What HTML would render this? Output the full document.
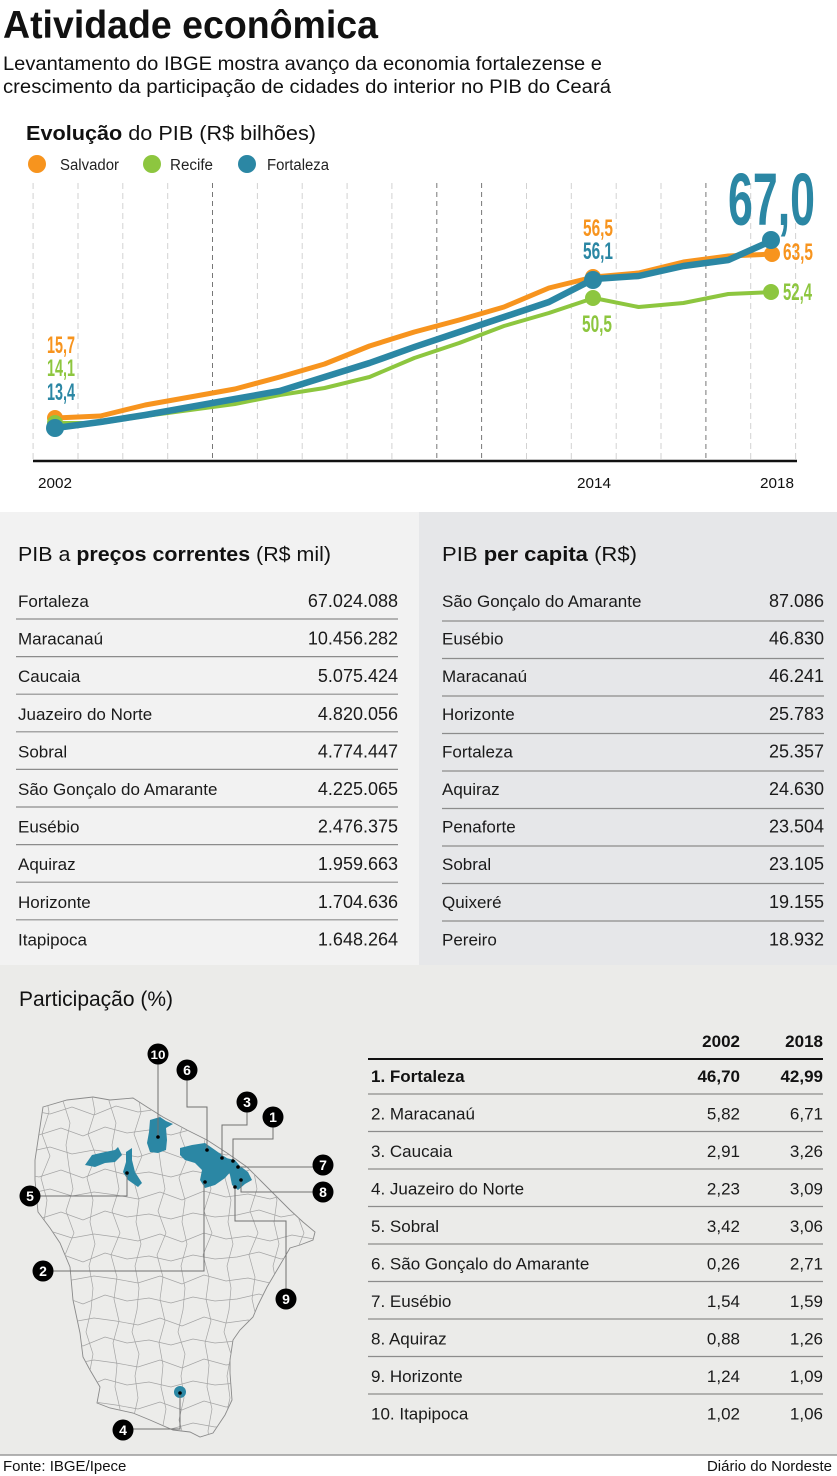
<!DOCTYPE html>
<html><head><meta charset="utf-8"><style>html,body{margin:0;padding:0;background:#fff}svg{display:block}</style></head>
<body>
<svg width="837" height="1476" viewBox="0 0 837 1476" xmlns="http://www.w3.org/2000/svg" font-family="'Liberation Sans', Arial, sans-serif">
<defs>
<clipPath id="ce"><path d="M43,1107 L67,1100 L93,1097 L110,1100 L133,1098 L147,1107 L163,1117 L187,1130 L207,1140 L227,1153 L247,1167 L260,1180 L275,1195 L290,1210 L303,1222 L315,1232 L313,1240 L300,1245 L290,1248 L280,1265 L267,1287 L258,1305 L253,1317 L240,1330 L233,1340 L230,1360 L230,1373 L232,1400 L225,1415 L213,1433 L200,1437 L190,1432 L173,1430 L150,1420 L133,1413 L110,1408 L97,1403 L100,1387 L90,1370 L83,1357 L80,1333 L73,1300 L70,1267 L60,1243 L50,1228 L38,1212 L35,1180 L35,1160 L40,1127 Z"/></clipPath>
</defs>
<rect width="837" height="1476" fill="#fff"/>
<rect x="0" y="512" width="419" height="453" fill="#f2f2f2"/>
<rect x="419" y="512" width="418" height="453" fill="#e6e7e9"/>
<rect x="0" y="965" width="837" height="490" fill="#ebebe9"/>
<line x1="0" y1="1455" x2="837" y2="1455" stroke="#9a9a9a" stroke-width="1.5"/>

<!-- Header -->
<text x="3" y="38" font-size="39" font-weight="bold" fill="#111" textLength="375" lengthAdjust="spacingAndGlyphs">Atividade econômica</text>
<text x="3" y="70" font-size="19" fill="#111" textLength="599" lengthAdjust="spacingAndGlyphs">Levantamento do IBGE mostra avanço da economia fortalezense e</text>
<text x="3" y="93" font-size="19" fill="#111" textLength="608" lengthAdjust="spacingAndGlyphs">crescimento da participação de cidades do interior no PIB do Ceará</text>

<text x="26" y="140" font-size="20" fill="#111" textLength="290" lengthAdjust="spacingAndGlyphs"><tspan font-weight="bold">Evolução</tspan> do PIB (R$ bilhões)</text>

<!-- Legend -->
<circle cx="37" cy="164" r="9" fill="#f7941e"/>
<text x="60" y="170" font-size="15.5" fill="#222" textLength="59" lengthAdjust="spacingAndGlyphs">Salvador</text>
<circle cx="152" cy="164" r="9" fill="#8dc63f"/>
<text x="170" y="170" font-size="15.5" fill="#222" textLength="43" lengthAdjust="spacingAndGlyphs">Recife</text>
<circle cx="247" cy="164" r="9" fill="#2b87a4"/>
<text x="267" y="170" font-size="15.5" fill="#222" textLength="62" lengthAdjust="spacingAndGlyphs">Fortaleza</text>

<!-- Gridlines -->
<g stroke="#d2d2d2" stroke-width="1" stroke-dasharray="6,4">
<line x1="33.1" y1="183" x2="33.1" y2="461"/>
<line x1="78" y1="183" x2="78" y2="461"/>
<line x1="122.8" y1="183" x2="122.8" y2="461"/>
<line x1="167.7" y1="183" x2="167.7" y2="461"/>
<line x1="257.4" y1="183" x2="257.4" y2="461"/>
<line x1="302.2" y1="183" x2="302.2" y2="461"/>
<line x1="347.1" y1="183" x2="347.1" y2="461"/>
<line x1="391.9" y1="183" x2="391.9" y2="461"/>
<line x1="526.5" y1="183" x2="526.5" y2="461"/>
<line x1="571.3" y1="183" x2="571.3" y2="461"/>
<line x1="616.2" y1="183" x2="616.2" y2="461"/>
<line x1="661" y1="183" x2="661" y2="461"/>
<line x1="750.7" y1="183" x2="750.7" y2="461"/>
<line x1="795.6" y1="183" x2="795.6" y2="461"/>
</g>
<g stroke="#777" stroke-width="1" stroke-dasharray="5,4">
<line x1="212.5" y1="183" x2="212.5" y2="461"/>
<line x1="436.8" y1="183" x2="436.8" y2="461"/>
<line x1="481.6" y1="183" x2="481.6" y2="461"/>
<line x1="705.9" y1="183" x2="705.9" y2="461"/>
</g>
<line x1="33" y1="461" x2="797" y2="461" stroke="#111" stroke-width="2.5"/>

<!-- Series -->
<polyline fill="none" stroke="#8dc63f" stroke-width="4" stroke-linejoin="round" points="55.5,423 100.4,423 145.2,416 190.1,410 234.9,404 279.8,395 324.6,388 369.5,377 414.3,358 459.2,343 504,326 548.9,313 593.7,298 638.6,307 683.4,303 728.3,294 773.1,292"/>
<polyline fill="none" stroke="#f7941e" stroke-width="5" stroke-linejoin="round" points="55.5,418 100.4,416 145.2,405 190.1,397 234.9,389 279.8,377 324.6,364 369.5,346 414.3,332 459.2,320 504,307 548.9,288 593.7,277 638.6,273 683.4,262 728.3,256 773.1,254"/>
<polyline fill="none" stroke="#2b87a4" stroke-width="6.5" stroke-linejoin="round" points="55.5,428 100.4,422 145.2,415 190.1,407 234.9,399 279.8,391 324.6,377 369.5,363 414.3,347 459.2,332 504,317 548.9,302 593.7,279 638.6,276 683.4,266 728.3,260 773.1,240"/>

<circle cx="55" cy="418" r="8" fill="#f7941e"/>
<circle cx="55" cy="423" r="8" fill="#8dc63f"/>
<circle cx="55" cy="428" r="9" fill="#2b87a4"/>
<circle cx="593" cy="277" r="8" fill="#f7941e"/>
<circle cx="593" cy="298" r="8" fill="#8dc63f"/>
<circle cx="593" cy="280" r="9" fill="#2b87a4"/>
<circle cx="772" cy="254" r="8" fill="#f7941e"/>
<circle cx="771" cy="292" r="8" fill="#8dc63f"/>
<circle cx="771" cy="240" r="9" fill="#2b87a4"/>

<!-- Value labels -->
<g font-size="24" font-weight="bold">
<text x="47" y="353" fill="#f7941e" textLength="28" lengthAdjust="spacingAndGlyphs">15,7</text>
<text x="47" y="376" fill="#8dc63f" textLength="28" lengthAdjust="spacingAndGlyphs">14,1</text>
<text x="47" y="400" fill="#2b87a4" textLength="28" lengthAdjust="spacingAndGlyphs">13,4</text>
<text x="583" y="236" fill="#f7941e" textLength="30" lengthAdjust="spacingAndGlyphs">56,5</text>
<text x="583" y="259" fill="#2b87a4" textLength="30" lengthAdjust="spacingAndGlyphs">56,1</text>
<text x="582" y="332" fill="#8dc63f" textLength="30" lengthAdjust="spacingAndGlyphs">50,5</text>
<text x="783" y="260" fill="#f7941e" textLength="30" lengthAdjust="spacingAndGlyphs">63,5</text>
<text x="783" y="300" fill="#8dc63f" textLength="29" lengthAdjust="spacingAndGlyphs">52,4</text>
</g>
<text x="728" y="225" font-size="74" font-weight="bold" fill="#2b87a4" textLength="87" lengthAdjust="spacingAndGlyphs">67,0</text>

<!-- Axis labels -->
<g font-size="15" fill="#111">
<text x="38" y="488" textLength="34" lengthAdjust="spacingAndGlyphs">2002</text>
<text x="577" y="488" textLength="34" lengthAdjust="spacingAndGlyphs">2014</text>
<text x="760" y="488" textLength="34" lengthAdjust="spacingAndGlyphs">2018</text>
</g>

<!-- Left table -->
<text x="18" y="561" font-size="20.5" fill="#111" textLength="313" lengthAdjust="spacingAndGlyphs">PIB a <tspan font-weight="bold">preços correntes</tspan> (R$ mil)</text>
<g stroke="#8c8c8c" stroke-width="1.2">
<line x1="16" y1="619" x2="398" y2="619"/>
<line x1="16" y1="656.6" x2="398" y2="656.6"/>
<line x1="16" y1="694.2" x2="398" y2="694.2"/>
<line x1="16" y1="731.8" x2="398" y2="731.8"/>
<line x1="16" y1="769.4" x2="398" y2="769.4"/>
<line x1="16" y1="807" x2="398" y2="807"/>
<line x1="16" y1="844.6" x2="398" y2="844.6"/>
<line x1="16" y1="882.2" x2="398" y2="882.2"/>
<line x1="16" y1="919.8" x2="398" y2="919.8"/>
</g>
<g font-size="17" fill="#1a1a1a">
<text x="18" y="607">Fortaleza</text>
<text x="18" y="644.6">Maracanaú</text>
<text x="18" y="682.2">Caucaia</text>
<text x="18" y="719.8">Juazeiro do Norte</text>
<text x="18" y="757.4">Sobral</text>
<text x="18" y="795">São Gonçalo do Amarante</text>
<text x="18" y="832.6">Eusébio</text>
<text x="18" y="870.2">Aquiraz</text>
<text x="18" y="907.8">Horizonte</text>
<text x="18" y="945.4">Itapipoca</text>
</g>
<g font-size="18" fill="#1a1a1a" text-anchor="end">
<text x="398" y="607">67.024.088</text>
<text x="398" y="644.6">10.456.282</text>
<text x="398" y="682.2">5.075.424</text>
<text x="398" y="719.8">4.820.056</text>
<text x="398" y="757.4">4.774.447</text>
<text x="398" y="795">4.225.065</text>
<text x="398" y="832.6">2.476.375</text>
<text x="398" y="870.2">1.959.663</text>
<text x="398" y="907.8">1.704.636</text>
<text x="398" y="945.4">1.648.264</text>
</g>

<!-- Right table -->
<text x="442" y="561" font-size="20.5" fill="#111" textLength="195" lengthAdjust="spacingAndGlyphs">PIB <tspan font-weight="bold">per capita</tspan> (R$)</text>
<g stroke="#8c8c8c" stroke-width="1.2">
<line x1="442" y1="621" x2="824" y2="621"/>
<line x1="442" y1="658.5" x2="824" y2="658.5"/>
<line x1="442" y1="696" x2="824" y2="696"/>
<line x1="442" y1="733.5" x2="824" y2="733.5"/>
<line x1="442" y1="771" x2="824" y2="771"/>
<line x1="442" y1="808.5" x2="824" y2="808.5"/>
<line x1="442" y1="846" x2="824" y2="846"/>
<line x1="442" y1="883.5" x2="824" y2="883.5"/>
<line x1="442" y1="921" x2="824" y2="921"/>
</g>
<g font-size="17" fill="#1a1a1a">
<text x="442" y="607">São Gonçalo do Amarante</text>
<text x="442" y="644.6">Eusébio</text>
<text x="442" y="682.2">Maracanaú</text>
<text x="442" y="719.8">Horizonte</text>
<text x="442" y="757.4">Fortaleza</text>
<text x="442" y="795">Aquiraz</text>
<text x="442" y="832.6">Penaforte</text>
<text x="442" y="870.2">Sobral</text>
<text x="442" y="907.8">Quixeré</text>
<text x="442" y="945.4">Pereiro</text>
</g>
<g font-size="18" fill="#1a1a1a" text-anchor="end">
<text x="824" y="607">87.086</text>
<text x="824" y="644.6">46.830</text>
<text x="824" y="682.2">46.241</text>
<text x="824" y="719.8">25.783</text>
<text x="824" y="757.4">25.357</text>
<text x="824" y="795">24.630</text>
<text x="824" y="832.6">23.504</text>
<text x="824" y="870.2">23.105</text>
<text x="824" y="907.8">19.155</text>
<text x="824" y="945.4">18.932</text>
</g>

<!-- Participação -->
<text x="19" y="1006" font-size="21" fill="#111" textLength="154" lengthAdjust="spacingAndGlyphs">Participação (%)</text>

<!-- Map -->
<path d="M43,1107 L67,1100 L93,1097 L110,1100 L133,1098 L147,1107 L163,1117 L187,1130 L207,1140 L227,1153 L247,1167 L260,1180 L275,1195 L290,1210 L303,1222 L315,1232 L313,1240 L300,1245 L290,1248 L280,1265 L267,1287 L258,1305 L253,1317 L240,1330 L233,1340 L230,1360 L230,1373 L232,1400 L225,1415 L213,1433 L200,1437 L190,1432 L173,1430 L150,1420 L133,1413 L110,1408 L97,1403 L100,1387 L90,1370 L83,1357 L80,1333 L73,1300 L70,1267 L60,1243 L50,1228 L38,1212 L35,1180 L35,1160 L40,1127 Z" fill="#ececea" stroke="#8a8a8a" stroke-width="0.9"/>
<g clip-path="url(#ce)" fill="none" stroke="#a4a4a4" stroke-width="0.7">
<path d="M28,1110 l22,4 l22,-7 l22,8 l22,-9 l22,6 l22,-3 l22,5 l22,-6 l22,4 l22,-2 l22,-5 l22,7 l22,-4 l22,3
M17,1131 l22,4 l22,-7 l22,8 l22,-9 l22,6 l22,-3 l22,5 l22,-6 l22,4 l22,-2 l22,-5 l22,7 l22,-4 l22,3 l22,2
M28,1152 l22,-5 l22,7 l22,-4 l22,3 l22,4 l22,-7 l22,8 l22,-9 l22,6 l22,-3 l22,5 l22,-6 l22,4
M17,1173 l22,4 l22,-7 l22,8 l22,-9 l22,6 l22,-3 l22,5 l22,-6 l22,4 l22,-2 l22,-5 l22,7 l22,-4 l22,3 l22,2
M28,1194 l22,-5 l22,7 l22,-4 l22,3 l22,4 l22,-7 l22,8 l22,-9 l22,6 l22,-3 l22,5 l22,-6 l22,4
M17,1215 l22,4 l22,-7 l22,8 l22,-9 l22,6 l22,-3 l22,5 l22,-6 l22,4 l22,-2 l22,-5 l22,7 l22,-4 l22,3 l22,2
M28,1236 l22,-5 l22,7 l22,-4 l22,3 l22,4 l22,-7 l22,8 l22,-9 l22,6 l22,-3 l22,5 l22,-6 l22,4
M17,1257 l22,4 l22,-7 l22,8 l22,-9 l22,6 l22,-3 l22,5 l22,-6 l22,4 l22,-2 l22,-5 l22,7 l22,-4 l22,3
M28,1278 l22,-5 l22,7 l22,-4 l22,3 l22,4 l22,-7 l22,8 l22,-9 l22,6 l22,-3 l22,5 l22,-6 l22,4
M17,1299 l22,4 l22,-7 l22,8 l22,-9 l22,6 l22,-3 l22,5 l22,-6 l22,4 l22,-2 l22,-5 l22,7 l22,-4 l22,3
M28,1320 l22,-5 l22,7 l22,-4 l22,3 l22,4 l22,-7 l22,8 l22,-9 l22,6 l22,-3 l22,5 l22,-6 l22,4
M17,1341 l22,4 l22,-7 l22,8 l22,-9 l22,6 l22,-3 l22,5 l22,-6 l22,4 l22,-2 l22,-5 l22,7 l22,-4 l22,3
M28,1362 l22,-5 l22,7 l22,-4 l22,3 l22,4 l22,-7 l22,8 l22,-9 l22,6 l22,-3 l22,5 l22,-6 l22,4
M17,1383 l22,4 l22,-7 l22,8 l22,-9 l22,6 l22,-3 l22,5 l22,-6 l22,4 l22,-2 l22,-5 l22,7 l22,-4 l22,3
M28,1404 l22,-5 l22,7 l22,-4 l22,3 l22,4 l22,-7 l22,8 l22,-9 l22,6 l22,-3 l22,5 l22,-6 l22,4
M17,1425 l22,4 l22,-7 l22,8 l22,-9 l22,6 l22,-3 l22,5 l22,-6 l22,4 l22,-2 l22,-5 l22,7 l22,-4 l22,3"/>
<path d="M45,1090 l4,22 l-7,22 l8,22 l-9,22 l6,22 l-3,22 l5,22 l-6,22 l4,22 l-2,22 l-5,22 l7,22 l-4,22 l3,22 l-5,22 l6,22
M68,1079 l-5,22 l7,22 l-4,22 l3,22 l4,22 l-7,22 l8,22 l-9,22 l6,22 l-3,22 l5,22 l-6,22 l4,22 l-2,22 l5,22 l-4,22 l3,22
M91,1090 l4,22 l-7,22 l8,22 l-9,22 l6,22 l-3,22 l5,22 l-6,22 l4,22 l-2,22 l-5,22 l7,22 l-4,22 l3,22 l-5,22 l6,22
M114,1079 l-5,22 l7,22 l-4,22 l3,22 l4,22 l-7,22 l8,22 l-9,22 l6,22 l-3,22 l5,22 l-6,22 l4,22 l-2,22 l5,22 l-4,22 l3,22
M137,1090 l4,22 l-7,22 l8,22 l-9,22 l6,22 l-3,22 l5,22 l-6,22 l4,22 l-2,22 l-5,22 l7,22 l-4,22 l3,22 l-5,22 l6,22
M160,1079 l-5,22 l7,22 l-4,22 l3,22 l4,22 l-7,22 l8,22 l-9,22 l6,22 l-3,22 l5,22 l-6,22 l4,22 l-2,22 l5,22 l-4,22 l3,22
M183,1090 l4,22 l-7,22 l8,22 l-9,22 l6,22 l-3,22 l5,22 l-6,22 l4,22 l-2,22 l-5,22 l7,22 l-4,22 l3,22 l-5,22 l6,22
M206,1079 l-5,22 l7,22 l-4,22 l3,22 l4,22 l-7,22 l8,22 l-9,22 l6,22 l-3,22 l5,22 l-6,22 l4,22 l-2,22 l5,22 l-4,22 l3,22
M229,1090 l4,22 l-7,22 l8,22 l-9,22 l6,22 l-3,22 l5,22 l-6,22 l4,22 l-2,22 l-5,22 l7,22 l-4,22 l3,22 l-5,22 l6,22
M252,1079 l-5,22 l7,22 l-4,22 l3,22 l4,22 l-7,22 l8,22 l-9,22 l6,22 l-3,22 l5,22 l-6,22 l4,22 l-2,22 l5,22 l-4,22 l3,22
M275,1090 l4,22 l-7,22 l8,22 l-9,22 l6,22 l-3,22 l5,22 l-6,22 l4,22 l-2,22 l-5,22 l7,22 l-4,22 l3,22 l-5,22 l6,22
M298,1079 l-5,22 l7,22 l-4,22 l3,22 l4,22 l-7,22 l8,22 l-9,22 l6,22 l-3,22 l5,22 l-6,22 l4,22 l-2,22 l5,22 l-4,22 l3,22"/>
</g>

<!-- Highlighted municipalities -->
<g fill="#2b87a4">
<path d="M150,1120 L160,1117 L166,1121 L173,1124 L166,1128 L167,1140 L166,1150 L158,1153 L150,1152 L147,1143 L149,1132 Z"/>
<path d="M85,1165 L92,1155 L105,1152 L115,1150 L118,1147 L122,1155 L115,1162 L105,1163 L95,1167 Z"/>
<path d="M126,1152 L132,1148 L132,1160 L135,1172 L142,1183 L138,1187 L128,1180 L123,1172 L126,1162 Z"/>
<path d="M180,1148 L192,1145 L205,1143 L215,1150 L222,1155 L230,1160 L232,1170 L225,1178 L215,1185 L205,1188 L200,1180 L202,1170 L195,1163 L185,1160 L180,1155 Z"/>
<path d="M226,1158 L235,1160 L240,1166 L248,1172 L252,1180 L245,1184 L238,1190 L232,1185 L230,1175 L227,1165 Z"/>
<circle cx="180" cy="1392" r="6"/>
</g>

<!-- Leader lines -->
<g fill="none" stroke="#707070" stroke-width="1">
<polyline points="158,1064 158,1137"/>
<polyline points="187,1080 187,1107 207,1107 207,1150"/>
<polyline points="247,1112 247,1125 222,1125 222,1158"/>
<polyline points="273,1127 273,1139 233,1139 233,1161"/>
<polyline points="313,1167 238,1167"/>
<polyline points="313,1192 241,1192 241,1180"/>
<polyline points="40,1196 127,1196 127,1173"/>
<polyline points="53,1271 204,1271 204,1182"/>
<polyline points="286,1289 286,1221 235,1221 235,1187"/>
<polyline points="133,1429 180,1429 180,1393"/>
</g>
<g fill="#000">
<circle cx="158" cy="1137" r="1.8"/>
<circle cx="207" cy="1150" r="1.8"/>
<circle cx="222" cy="1158" r="1.8"/>
<circle cx="233" cy="1161" r="1.8"/>
<circle cx="238" cy="1167" r="1.8"/>
<circle cx="241" cy="1180" r="1.8"/>
<circle cx="127" cy="1173" r="1.8"/>
<circle cx="205" cy="1182" r="1.8"/>
<circle cx="235" cy="1187" r="1.8"/>
<circle cx="180" cy="1393" r="1.8"/>
</g>
<g fill="#000">
<circle cx="158" cy="1054" r="10.5"/>
<circle cx="187" cy="1070" r="10.5"/>
<circle cx="247" cy="1102" r="10.5"/>
<circle cx="273" cy="1117" r="10.5"/>
<circle cx="323" cy="1165" r="10.5"/>
<circle cx="323" cy="1192" r="10.5"/>
<circle cx="30" cy="1196" r="10.5"/>
<circle cx="43" cy="1271" r="10.5"/>
<circle cx="286" cy="1299" r="10.5"/>
<circle cx="123" cy="1430" r="10.5"/>
</g>
<g fill="#fff" font-weight="bold" font-size="14" text-anchor="middle">
<text x="158" y="1059" font-size="12" textLength="15" lengthAdjust="spacingAndGlyphs">10</text>
<text x="187" y="1075">6</text>
<text x="247" y="1107">3</text>
<text x="273" y="1122">1</text>
<text x="323" y="1170">7</text>
<text x="323" y="1197">8</text>
<text x="30" y="1201">5</text>
<text x="43" y="1276">2</text>
<text x="286" y="1304">9</text>
<text x="123" y="1435">4</text>
</g>

<!-- Participation table -->
<g font-size="17" font-weight="bold" fill="#111" text-anchor="end">
<text x="740" y="1047">2002</text>
<text x="823" y="1047">2018</text>
</g>
<line x1="368" y1="1059" x2="823" y2="1059" stroke="#111" stroke-width="2"/>
<g stroke="#8c8c8c" stroke-width="1.2">
<line x1="368" y1="1094" x2="823" y2="1094"/>
<line x1="368" y1="1131.5" x2="823" y2="1131.5"/>
<line x1="368" y1="1169" x2="823" y2="1169"/>
<line x1="368" y1="1206.5" x2="823" y2="1206.5"/>
<line x1="368" y1="1244" x2="823" y2="1244"/>
<line x1="368" y1="1281.5" x2="823" y2="1281.5"/>
<line x1="368" y1="1319" x2="823" y2="1319"/>
<line x1="368" y1="1356.5" x2="823" y2="1356.5"/>
<line x1="368" y1="1394" x2="823" y2="1394"/>
</g>
<g font-size="17" fill="#111" font-weight="bold">
<text x="371" y="1082">1. Fortaleza</text>
<text x="740" y="1082" text-anchor="end">46,70</text>
<text x="823" y="1082" text-anchor="end">42,99</text>
</g>
<g font-size="17" fill="#1a1a1a">
<text x="371" y="1119.5">2. Maracanaú</text>
<text x="371" y="1157">3. Caucaia</text>
<text x="371" y="1194.5">4. Juazeiro do Norte</text>
<text x="371" y="1232">5. Sobral</text>
<text x="371" y="1269.5">6. São Gonçalo do Amarante</text>
<text x="371" y="1307">7. Eusébio</text>
<text x="371" y="1344.5">8. Aquiraz</text>
<text x="371" y="1382">9. Horizonte</text>
<text x="371" y="1419.5">10. Itapipoca</text>
</g>
<g font-size="17" fill="#1a1a1a" text-anchor="end">
<text x="740" y="1119.5">5,82</text><text x="823" y="1119.5">6,71</text>
<text x="740" y="1157">2,91</text><text x="823" y="1157">3,26</text>
<text x="740" y="1194.5">2,23</text><text x="823" y="1194.5">3,09</text>
<text x="740" y="1232">3,42</text><text x="823" y="1232">3,06</text>
<text x="740" y="1269.5">0,26</text><text x="823" y="1269.5">2,71</text>
<text x="740" y="1307">1,54</text><text x="823" y="1307">1,59</text>
<text x="740" y="1344.5">0,88</text><text x="823" y="1344.5">1,26</text>
<text x="740" y="1382">1,24</text><text x="823" y="1382">1,09</text>
<text x="740" y="1419.5">1,02</text><text x="823" y="1419.5">1,06</text>
</g>

<!-- Footer -->
<text x="3" y="1471" font-size="15" fill="#111">Fonte: IBGE/Ipece</text>
<text x="832" y="1471" font-size="15" fill="#111" text-anchor="end">Diário do Nordeste</text>
</svg>
</body></html>
